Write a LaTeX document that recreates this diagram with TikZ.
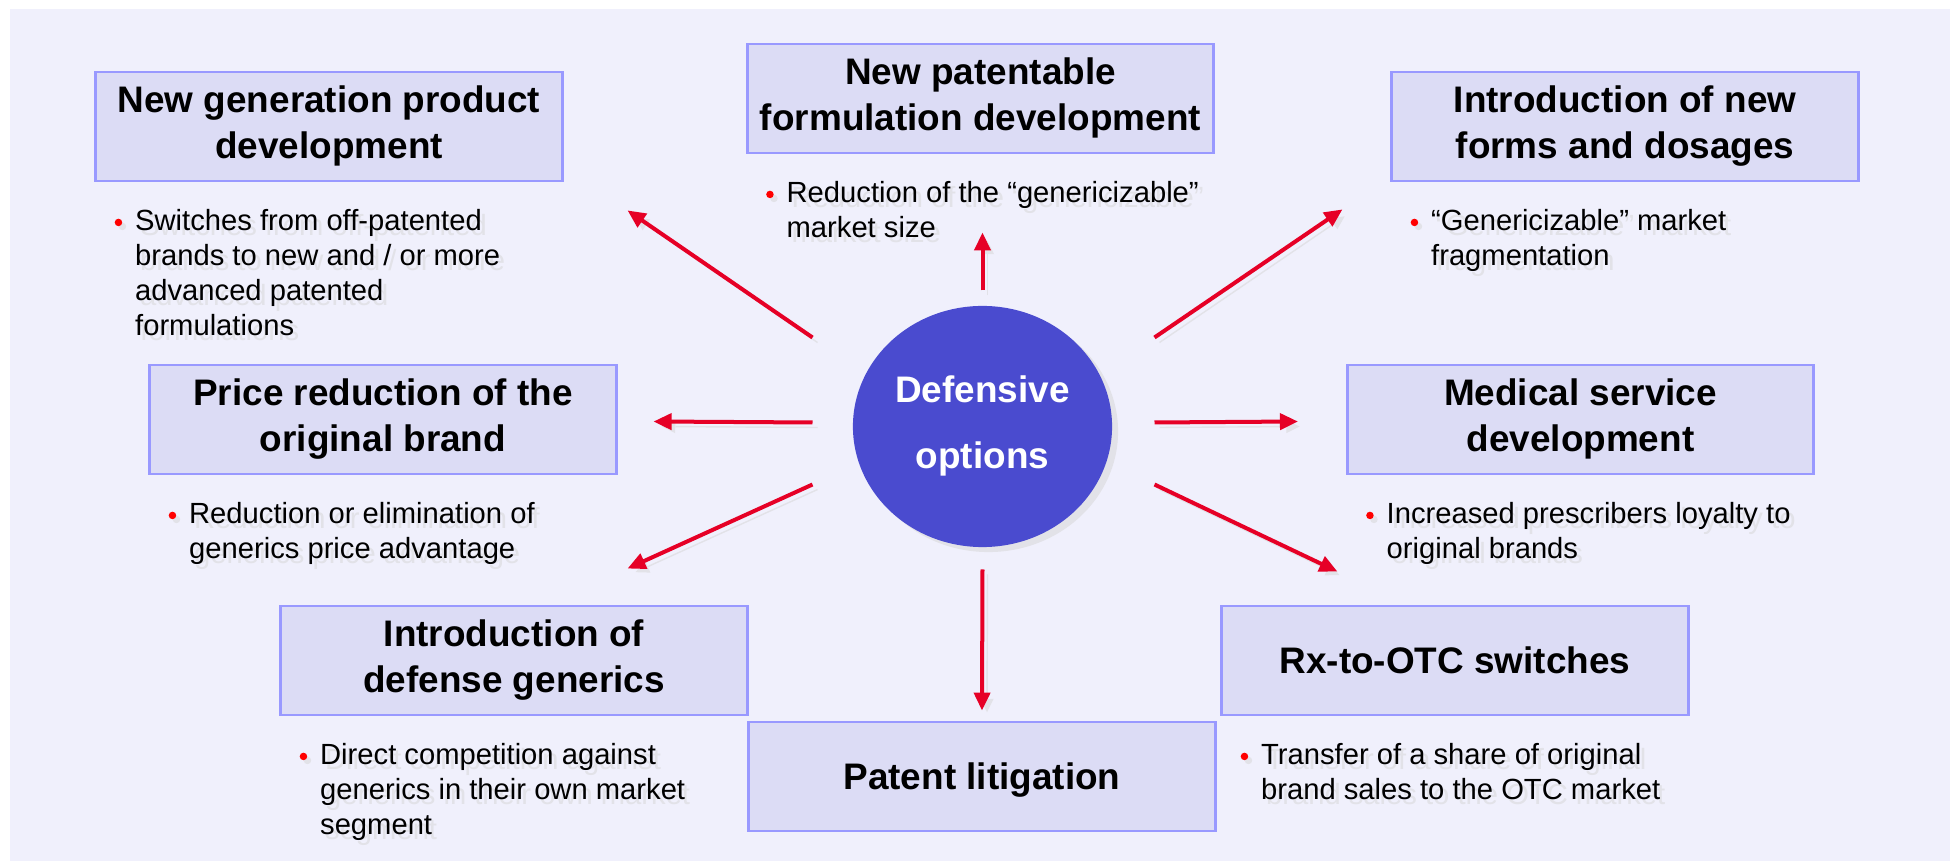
\documentclass[tikz,border=0pt]{standalone}
\usepackage{fontspec}
\setmainfont{Liberation Sans}
\usetikzlibrary{arrows.meta,shapes.geometric,shadows,calc}

\definecolor{pagebg}{RGB}{240,240,252}
\definecolor{boxfill}{RGB}{220,220,245}
\definecolor{boxline}{RGB}{153,153,255}
\definecolor{hubblue}{RGB}{74,75,207}
\definecolor{arrowred}{RGB}{230,0,38}
\definecolor{shade}{RGB}{226,226,232}

% strut so that the caps sit in the middle of a box
\newcommand\capstrut{\rule[-0.09cm]{0pt}{0.445cm}}

\begin{document}
\begin{tikzpicture}[x=0.01cm, y=-0.01cm,
    optbox/.style={draw=boxline, line width=0.8pt, fill=boxfill, minimum width=4.66cm, minimum height=1.09cm,
        inner sep=0pt, align=center, font=\fontsize{10.5}{13.1}\selectfont\bfseries,
        execute at begin node=\capstrut, execute at end node=\capstrut},
    hub/.style={ellipse, fill=hubblue, minimum width=2.59cm, minimum height=2.41cm, inner sep=0pt,
        align=center, text=white, font=\fontsize{10.5}{18.8}\selectfont\bfseries,
        execute at begin node=\capstrut, execute at end node=\capstrut,
        drop shadow={shadow xshift=0.06cm, shadow yshift=-0.05cm, fill=shade, opacity=1}},
    note/.style={anchor=north west, inner sep=0pt, align=left, font=\fontsize{8.3}{10}\selectfont},
    bulletdot/.style={circle, fill=red, inner sep=0pt, minimum size=0.075cm,
        drop shadow={shadow xshift=0.04cm, shadow yshift=-0.04cm, fill=shade, opacity=1}},
    redarrow/.style={draw=arrowred, line width=0.04cm, -{Triangle[length=0.18cm, width=0.16cm]},
        preaction={draw=shade, transform canvas={shift={(0.05cm,-0.05cm)}}}}]

    \useasboundingbox (0,0) rectangle (1950,861);
    \fill[pagebg] (10,9) rectangle (1950,861);

    % centre and the eight options
    \node[hub] (hub) at (982.5,426.5) {Defensive\\options};
    \node[optbox] (newgen)  at (329,126.5)    {New generation product\\development};
    \node[optbox] (newform) at (980.5,98.5)   {New patentable\\formulation development};
    \node[optbox] (newdose) at (1625,126.5)   {Introduction of new\\forms and dosages};
    \node[optbox] (price)   at (383,419.5)    {Price reduction of the\\original brand};
    \node[optbox] (medical) at (1580.5,419.5) {Medical service\\development};
    \node[optbox] (defgen)  at (514,660.5)    {Introduction of\\defense generics};
    \node[optbox] (otc)     at (1455,660.5)   {Rx-to-OTC switches};
    \node[optbox] (litig)   at (982,776.5)    {Patent litigation};

    % bullet notes under each box, shadow first
    \foreach \src/\i/\txt in {
        newgen/1/{Switches from off-patented\\brands to new and / or more\\advanced patented\\formulations},
        newform/2/{Reduction of the “genericizable”\\market size},
        newdose/3/{“Genericizable” market\\fragmentation},
        price/4/{Reduction or elimination of\\generics price advantage},
        medical/5/{Increased prescribers loyalty to\\original brands},
        defgen/6/{Direct competition against\\generics in their own market\\segment},
        otc/7/{Transfer of a share of original\\brand sales to the OTC market}}{
        \node[bulletdot] (dot\i) at ($(\src.south west)+(24,40)$) {};
        \node[note, text=shade] at ($(dot\i)+(21,-9)$) {\txt};
        \node[note] (note\i) at ($(dot\i)+(16,-14)$) {\txt};
    }

    % arrows out of the centre
    \draw[redarrow] ($(hub.center)+(0,-136)$)   -- ($(newform.south)+(2,78)$);
    \draw[redarrow] ($(hub.center)+(-170,-89)$) -- ($(newgen.south east)+(64,28)$);
    \draw[redarrow] ($(hub.center)+(172,-89)$)  -- ($(newdose.south west)+(-48,27)$);
    \draw[redarrow] ($(hub.center)+(-170,-4)$)  -- ($(price.east)+(36,2)$);
    \draw[redarrow] ($(hub.center)+(172,-4)$)   -- ($(medical.west)+(-48,2)$);
    \draw[redarrow] ($(hub.center)+(-170,58)$)  -- ($(defgen.north east)+(-121,-36)$);
    \draw[redarrow] ($(hub.center)+(172,58)$)   -- ($(otc.north west)+(117,-33)$);
    \draw[redarrow] ($(hub.center)+(0,143)$)    -- ($(litig.north)+(0,-10)$);
\end{tikzpicture}
\end{document}
